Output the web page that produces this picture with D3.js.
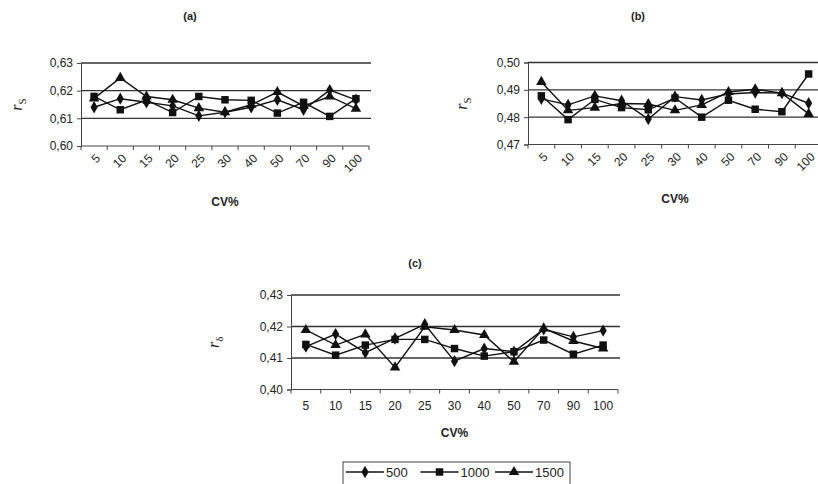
<!DOCTYPE html>
<html>
<head>
<meta charset="utf-8">
<script src="https://cdn.jsdelivr.net/npm/d3@7"></script>
<style>
  body { margin: 0; background: #fff; }
  text { font-family: "Liberation Sans", Arial, sans-serif; fill: #222; }
</style>
</head>
<body>
<svg id="chart" width="818" height="484"></svg>
<script>
// categories (CV%)
const cvLabels = ["5", "10", "15", "20", "25", "30", "40", "50", "70", "90", "100"];
const seriesNames = ["500", "1000", "1500"];

// panel (a) r_S
const a500  = [0.6140, 0.6171, 0.6158, 0.6145, 0.6109, 0.6122, 0.6140, 0.6167, 0.6131, 0.6202, 0.6167];
const a1000 = [0.6179, 0.6131, 0.6166, 0.6121, 0.6179, 0.6167, 0.6165, 0.6119, 0.6158, 0.6107, 0.6171];
const a1500 = [0.6172, 0.6246, 0.6179, 0.6167, 0.6137, 0.6122, 0.6149, 0.6195, 0.6145, 0.6179, 0.6135];

// panel (b) r_S
const b500  = [0.4867, 0.4845, 0.4878, 0.4860, 0.4793, 0.4875, 0.4863, 0.4885, 0.4890, 0.4888, 0.4851];
const b1000 = [0.4878, 0.4791, 0.4865, 0.4835, 0.4827, 0.4870, 0.4800, 0.4862, 0.4829, 0.4820, 0.4958];
const b1500 = [0.4929, 0.4825, 0.4835, 0.4850, 0.4848, 0.4825, 0.4845, 0.4892, 0.4902, 0.4888, 0.4812];

// panel (c) r_delta
const c500  = [0.4136, 0.4176, 0.4117, 0.4162, 0.4207, 0.4090, 0.4130, 0.4120, 0.4191, 0.4167, 0.4187];
const c1000 = [0.4143, 0.4109, 0.4141, 0.4159, 0.4159, 0.4130, 0.4106, 0.4120, 0.4157, 0.4112, 0.4141];
const c1500 = [0.4189, 0.4141, 0.4175, 0.4070, 0.4199, 0.4189, 0.4173, 0.4088, 0.4194, 0.4154, 0.4130];

const aTicks = [0.60, 0.61, 0.62, 0.63];
const bTicks = [0.47, 0.48, 0.49, 0.50];
const cTicks = [0.40, 0.41, 0.42, 0.43];

const svg = d3.select("#chart");
const fmt = v => d3.format(".2f")(v).replace(".", ",");

const symbols = [d3.symbolDiamond, d3.symbolSquare, d3.symbolTriangle];
const symSize = [44, 56, 48];

let drawPanel = (opt) => {
    const x = d3.scaleBand().domain(cvLabels).range([opt.x0, opt.x1]);
    const y = d3.scaleLinear().domain([opt.ticks[0], opt.ticks[opt.ticks.length - 1]]).range([opt.y1, opt.y0]);
    const g = svg.append("g");

    // gridlines
    g.append("g").selectAll("line")
        .data(opt.ticks.slice(1))
        .join("line")
        .attr("x1", opt.x0).attr("x2", opt.x1 + 2)
        .attr("y1", d => y(d)).attr("y2", d => y(d))
        .attr("stroke", "#333").attr("stroke-width", 1.4);

    // y axis
    const ya = g.append("g")
        .attr("transform", `translate(${opt.x0},0)`)
        .call(d3.axisLeft(y).tickValues(opt.ticks).tickFormat(fmt).tickSize(4).tickPadding(4));
    ya.select(".domain").attr("stroke", "#444");
    ya.selectAll(".tick line").attr("stroke", "#444");
    ya.selectAll("text").style("font-size", "12px").attr("fill", "#333");

    // x axis with ticks on band edges
    const xa = g.append("g")
        .attr("transform", `translate(0,${opt.y1})`);
    xa.append("line")
        .attr("x1", opt.x0).attr("x2", opt.x1)
        .attr("stroke", "#444");
    xa.selectAll("line.tk")
        .data(cvLabels.concat(["end"]))
        .join("line").attr("class", "tk")
        .attr("x1", (d, i) => opt.x0 + i * x.bandwidth())
        .attr("x2", (d, i) => opt.x0 + i * x.bandwidth())
        .attr("y1", 0).attr("y2", 4)
        .attr("stroke", "#444");
    const lbl = xa.selectAll("text")
        .data(cvLabels)
        .join("text")
        .style("font-size", "12px")
        .attr("fill", "#333")
        .text(d => d);
    if (opt.rotate) {
        lbl.attr("text-anchor", "end")
            .attr("transform", d => `translate(${x(d) + x.bandwidth() / 2 + 7},${13}) rotate(-45)`);
    } else {
        lbl.attr("text-anchor", "middle")
            .attr("x", d => x(d) + x.bandwidth() / 2)
            .attr("y", 20);
    }

    // lines and markers
    const line = d3.line()
        .x((d, i) => x(cvLabels[i]) + x.bandwidth() / 2)
        .y(d => y(d));
    opt.series.forEach((s, k) => {
        g.append("path")
            .attr("d", line(s))
            .attr("fill", "none")
            .attr("stroke", "#111")
            .attr("stroke-width", 1.4);
        g.append("g").selectAll("path")
            .data(s)
            .join("path")
            .attr("d", d3.symbol().type(symbols[k]).size(symSize[k]))
            .attr("transform", (d, i) => `translate(${x(cvLabels[i]) + x.bandwidth() / 2},${y(d)})`)
            .attr("fill", "#111");
    });

    // titles
    svg.append("text")
        .attr("x", opt.titleX).attr("y", opt.titleY)
        .attr("text-anchor", "middle")
        .style("font-size", "11px").style("font-weight", "bold")
        .text(opt.title);
    svg.append("text")
        .attr("x", (opt.x0 + opt.x1) / 2).attr("y", opt.cvY)
        .attr("text-anchor", "middle")
        .style("font-size", "12px").style("font-weight", "bold")
        .text("CV%");

    // y label r with subscript
    const yl = svg.append("text")
        .attr("transform", `translate(${opt.ylabX},${(opt.y0 + opt.y1) / 2}) rotate(-90)`)
        .attr("text-anchor", "middle")
        .style("font-size", "16px")
        .style("font-family", "'Liberation Serif', serif")
        .attr("fill", "#333");
    yl.append("tspan").style("font-style", "italic").text("r");
    yl.append("tspan").attr("dy", 4).style("font-size", "11px").text(opt.sub);
};

drawPanel({
    x0: 81, x1: 369, y0: 63, y1: 146, ticks: aTicks,
    series: [a500, a1000, a1500], rotate: true,
    title: "(a)", titleX: 190, titleY: 20, cvY: 206, ylabX: 22, sub: "S"
});
drawPanel({
    x0: 528, x1: 822, y0: 62.5, y1: 144.5, ticks: bTicks,
    series: [b500, b1000, b1500], rotate: true,
    title: "(b)", titleX: 638, titleY: 20, cvY: 203, ylabX: 467, sub: "S"
});
drawPanel({
    x0: 291, x1: 618, y0: 295, y1: 389.5, ticks: cTicks,
    series: [c500, c1000, c1500], rotate: false,
    title: "(c)", titleX: 415, titleY: 267, cvY: 437, ylabX: 219, sub: "δ"
});

// legend
const lg = svg.append("g");
lg.append("rect")
    .attr("x", 343).attr("y", 462).attr("width", 227).attr("height", 24)
    .attr("fill", "#fff").attr("stroke", "#444").attr("stroke-width", 1);
const legX = d3.scalePoint().domain(seriesNames).range([346, 495]);
seriesNames.forEach((n, k) => {
    const lx = legX(n);
    lg.append("line")
        .attr("x1", lx).attr("x2", lx + 38)
        .attr("y1", 472).attr("y2", 472)
        .attr("stroke", "#111").attr("stroke-width", 1.4);
    lg.append("path")
        .attr("d", d3.symbol().type(symbols[k]).size(symSize[k])())
        .attr("transform", `translate(${lx + 19},472)`)
        .attr("fill", "#111");
    lg.append("text")
        .attr("x", lx + 40).attr("y", 477)
        .style("font-size", "13px").attr("fill", "#333")
        .text(n);
});
</script>
</body>
</html>
